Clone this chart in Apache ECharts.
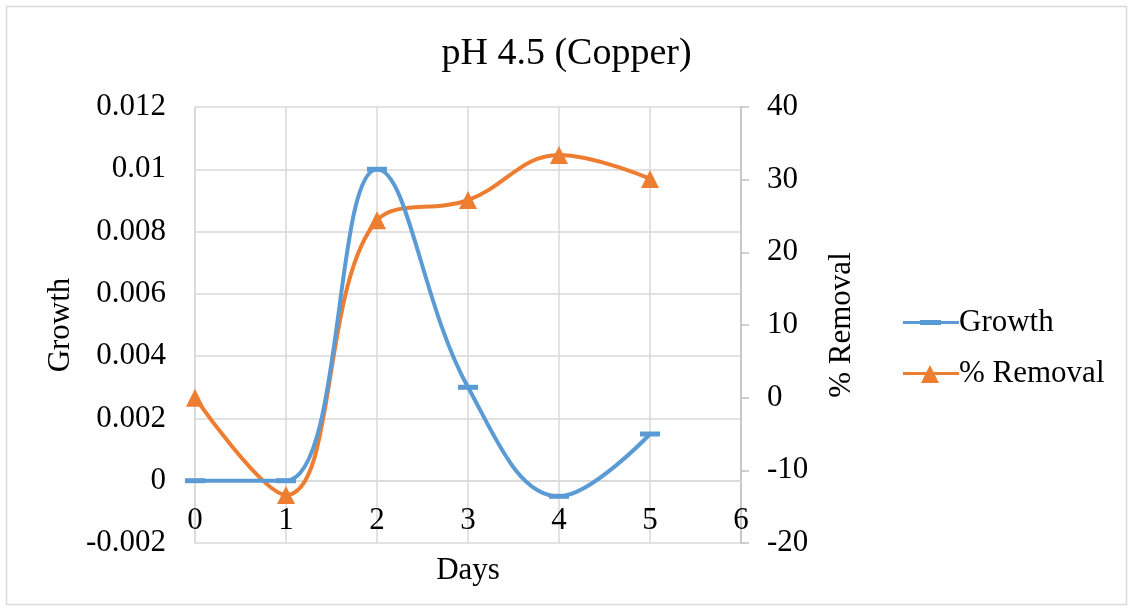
<!DOCTYPE html>
<html>
<head>
<meta charset="utf-8">
<script src="https://cdn.jsdelivr.net/npm/echarts@6/dist/echarts.min.js"></script>
<style>html,body{margin:0;padding:0;background:#fff}#c{width:1133px;height:611px}</style>
</head>
<body>
<div id="c"></div>
<script>
const days = [0, 1, 2, 3, 4, 5];
const growth = [0, 0, 0.01, 0.003, -0.0005, 0.0015];
const removal = [0, -13.4, 24.4, 27.2, 33.4, 30.1];
const titleText = 'pH 4.5 (Copper)';

const FONT = '"Liberation Serif", "Times New Roman", serif';
const FS = 31;
const chart = echarts.init(document.getElementById('c'), null, {renderer: 'canvas'});
const gridColor = '#d9d9d9';
const growthIcon = 'path://M0,0 M56,20 M0,8.5 L56,8.5 L56,11.5 L0,11.5 Z M17,7.5 L38,7.5 L38,12.5 L17,12.5 Z';
const removalIcon = 'path://M0,0 M56,20 M0,8.5 L56,8.5 L56,11.5 L0,11.5 Z M18,19.5 L27,1.5 L36,19.5 Z';
chart.setOption({
  animation: false,
  backgroundColor: '#fff',
  graphic: [{
    type: 'rect', shape: {x: 6.5, y: 6.5, width: 1120, height: 598},
    style: {fill: 'none', stroke: '#d9d9d9', lineWidth: 1.5}, silent: true
  }],
  title: {
    text: titleText, left: 'center', top: 30,
    textStyle: {fontFamily: FONT, fontSize: 38, fontWeight: 'normal', color: '#000'}
  },
  legend: {
    orient: 'vertical', left: 898, top: 302, itemGap: 20,
    itemWidth: 56, itemHeight: 20,
    textStyle: {fontFamily: FONT, fontSize: FS, color: '#000', padding: [0,0,0,-5]},
    data: [{name: 'Growth', icon: growthIcon}, {name: '% Removal', icon: removalIcon}]
  },
  grid: {left: 195, right: 392, top: 107, bottom: 68},
  xAxis: {
    type: 'value', min: 0, max: 6, interval: 1,
    name: 'Days', nameLocation: 'middle', nameGap: 12,
    nameTextStyle: {fontFamily: FONT, fontSize: FS, color: '#000'},
    axisLine: {show: true, lineStyle: {color: gridColor, width: 1.5}},
    axisTick: {show: false},
    axisLabel: {margin: -38, fontFamily: FONT, fontSize: FS, color: '#000'},
    splitLine: {show: true, lineStyle: {color: gridColor, width: 1.5}}
  },
  yAxis: [{
    type: 'value', min: -0.002, max: 0.012, interval: 0.002,
    name: 'Growth', nameLocation: 'middle', nameGap: 119, nameRotate: 90,
    nameTextStyle: {fontFamily: FONT, fontSize: FS, color: '#000'},
    axisLine: {show: true, lineStyle: {color: gridColor, width: 1.5}},
    axisTick: {show: false},
    axisLabel: {margin: 29, fontFamily: FONT, fontSize: FS, color: '#000'},
    splitLine: {show: true, lineStyle: {color: gridColor, width: 1.5}}
  }, {
    type: 'value', min: -20, max: 40, interval: 10, position: 'right',
    name: '% Removal', nameLocation: 'middle', nameGap: 85, nameRotate: 90,
    nameTextStyle: {fontFamily: FONT, fontSize: FS, color: '#000'},
    axisLine: {show: true, lineStyle: {color: '#bfbfbf', width: 1.5}},
    axisTick: {show: true, length: 8, lineStyle: {color: '#bfbfbf', width: 1.5}},
    axisLabel: {margin: 26, fontFamily: FONT, fontSize: FS, color: '#000'},
    splitLine: {show: false}
  }],
  series: [{
    name: 'Growth', type: 'line', yAxisIndex: 0,
    data: days.map((d, i) => [d, growth[i]]),
    smooth: 0.4, symbol: 'rect', symbolSize: [20, 5],
    lineStyle: {color: '#5b9bd5', width: 4},
    itemStyle: {color: '#5b9bd5'}, z: 3
  }, {
    name: '% Removal', type: 'line', yAxisIndex: 1,
    data: days.map((d, i) => [d, removal[i]]),
    smooth: 0.4, symbol: 'triangle', symbolSize: 18,
    lineStyle: {color: '#ed7d31', width: 4},
    itemStyle: {color: '#ed7d31'}, z: 2
  }]
});
</script>
</body>
</html>
